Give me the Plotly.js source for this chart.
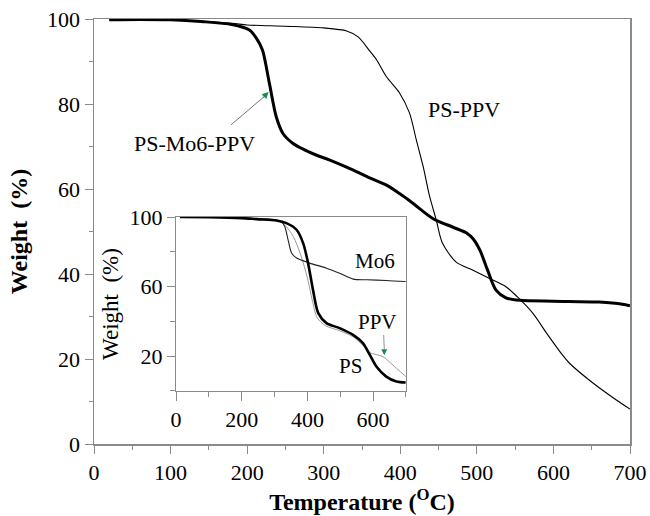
<!DOCTYPE html>
<html><head><meta charset="utf-8">
<script src="https://cdn.plot.ly/plotly-3.0.1.min.js"></script>
<style>html,body{margin:0;padding:0;background:#fff}#chart{width:650px;height:516px}</style>
</head><body><div id="chart"></div>
<script>
// Main plot data
const tempPSMo6PPV = [20, 60, 100, 140, 180, 203, 212, 220, 229, 238, 247, 260, 275, 290, 308, 338, 360, 382, 400, 416, 443, 469, 487, 495, 504, 514, 525, 538, 556, 600, 660, 690, 700];
const wPSMo6PPV    = [99.8, 99.9, 99.8, 99.4, 98.7, 97.4, 95.5, 92.7, 84.9, 77, 73, 70.7, 69.2, 68, 66.8, 64.5, 62.6, 60.9, 58.8, 56.7, 53, 51, 49.6, 48.3, 45.6, 40.9, 36.2, 34.4, 33.8, 33.6, 33.4, 32.9, 32.5];
const tempPSPPV = [20, 100, 180, 200, 250, 300, 330, 345, 360, 369, 382, 399, 412, 421, 430, 438, 447, 455, 473, 495, 516, 538, 553, 573, 591, 612, 621, 647, 677, 700];
const wPSPPV    = [99.8, 99.8, 99.0, 98.6, 98.3, 97.9, 97.2, 95.8, 92.5, 90.4, 86.4, 82.6, 77.9, 71.5, 65.2, 58.5, 52.7, 47.3, 42.8, 40.9, 39, 37, 34.6, 30.8, 26.1, 20.9, 19, 15, 11, 8.2];
// Inset data
const tempPS = [12, 100, 200, 245, 306, 336, 367, 387, 402, 417, 433, 458, 498, 539, 569, 590, 610, 640, 671, 699];
const wPS    = [100, 99.9, 99.4, 98.8, 98, 96.5, 92.7, 85, 73.5, 58.1, 44.7, 39, 36.1, 32.2, 27.5, 20.7, 14, 8.2, 5.4, 4.8];
const tempPPV = [12, 100, 200, 300, 330, 357, 380, 400, 415, 430, 455, 500, 540, 570, 590, 630, 665, 700];
const wPPV    = [100, 99.9, 99.4, 98.5, 95.6, 88.8, 78, 65, 52, 42, 37.5, 34.5, 31, 26, 22, 19.7, 14, 8.2];
const tempMo6 = [12, 100, 200, 300, 320, 331, 341, 352, 367, 407, 458, 498, 539, 580, 640, 699];
const wMo6    = [100, 99.9, 99.4, 98.3, 97.4, 94.6, 87, 79.3, 76.4, 73.5, 70.6, 67.7, 64.3, 63.9, 63.5, 62.9];
const mainXTicks = [0, 100, 200, 300, 400, 500, 600, 700];
const mainYTicks = [0, 20, 40, 60, 80, 100];
const insetXTicks = [0, 200, 400, 600];
const insetYTicks = [20, 60, 100];

const F = "'Liberation Serif', serif";
const axisGray = '#8a8a8a';

const traces = [
  {x: tempPSPPV, y: wPSPPV, mode: 'lines', line: {color: '#000', width: 1.1, shape: 'spline', smoothing: 0.8}, xaxis: 'x', yaxis: 'y'},
  {x: tempPSMo6PPV, y: wPSMo6PPV, mode: 'lines', line: {color: '#000', width: 3, shape: 'spline', smoothing: 0.8}, xaxis: 'x', yaxis: 'y'},
  {x: tempPPV, y: wPPV, mode: 'lines', line: {color: '#9a9a9a', width: 1, shape: 'spline', smoothing: 0.8}, xaxis: 'x2', yaxis: 'y2'},
  {x: tempMo6, y: wMo6, mode: 'lines', line: {color: '#222', width: 1.1, shape: 'spline', smoothing: 0.8}, xaxis: 'x2', yaxis: 'y2'},
  {x: tempPS, y: wPS, mode: 'lines', line: {color: '#000', width: 2.6, shape: 'spline', smoothing: 0.8}, xaxis: 'x2', yaxis: 'y2'}
];

const layout = {
  width: 650, height: 516,
  margin: {l: 94, r: 20, t: 19, b: 72},
  paper_bgcolor: '#fff', plot_bgcolor: '#fff',
  showlegend: false,
  font: {family: F, color: '#000', size: 22},
  xaxis: {
    domain: [0, 1], range: [0, 700], tickvals: mainXTicks, showgrid: false, zeroline: false,
    showline: true, linecolor: axisGray, linewidth: 1.5, mirror: true,
    ticks: 'outside', ticklen: 8, tickcolor: axisGray, tickwidth: 1,
    minor: {dtick: 50, ticks: 'outside', ticklen: 4, tickcolor: axisGray, showgrid: false},
    tickfont: {size: 22, family: F},
    title: {text: '<b>Temperature (<sup>O</sup>C)</b>', font: {size: 24, family: F}, standoff: 8}
  },
  yaxis: {
    domain: [0, 1], range: [0, 100], tickvals: mainYTicks, showgrid: false, zeroline: false,
    showline: true, linecolor: axisGray, linewidth: 1.5, mirror: true,
    ticks: 'outside', ticklen: 8, tickcolor: axisGray, tickwidth: 1,
    minor: {dtick: 10, ticks: 'outside', ticklen: 4, tickcolor: axisGray, showgrid: false},
    tickfont: {size: 22, family: F},
    title: {text: '<b>Weight  (%)</b>', font: {size: 24, family: F}, standoff: 12}
  },
  xaxis2: {
    domain: [0.153, 0.582], anchor: 'y2', range: [0, 700], tickvals: insetXTicks, showgrid: false, zeroline: false,
    showline: true, linecolor: axisGray, linewidth: 1, mirror: true,
    ticks: 'outside', ticklen: 9, tickcolor: axisGray, tickwidth: 1,
    minor: {dtick: 100, ticks: 'outside', ticklen: 5, tickcolor: axisGray, showgrid: false},
    tickfont: {size: 22, family: F}
  },
  yaxis2: {
    domain: [0.125, 0.534], anchor: 'x2', range: [0, 100], tickvals: insetYTicks, showgrid: false, zeroline: false,
    showline: true, linecolor: axisGray, linewidth: 1, mirror: true,
    ticks: 'outside', ticklen: 8, tickcolor: axisGray, tickwidth: 1,
    minor: {dtick: 20, ticks: 'outside', ticklen: 5, tickcolor: axisGray, showgrid: false},
    tickfont: {size: 22, family: F},
    title: {text: 'Weight  (%)', font: {size: 23, family: F}, standoff: 4}
  },
  annotations: [
    {xref: 'x', yref: 'y', x: 131, y: 70.8, text: 'PS-Mo6-PPV', showarrow: false, font: {size: 22, family: F}},
    {xref: 'x', yref: 'y', x: 483, y: 78.6, text: 'PS-PPV', showarrow: false, font: {size: 22, family: F}},
    {xref: 'x', yref: 'y', x: 222, y: 81.7, ax: 177, ay: 74.8, axref: 'x', ayref: 'y', text: '', showarrow: true, arrowhead: 0, arrowwidth: 1, arrowcolor: '#777'},
    {xref: 'x', yref: 'y', x: 228, y: 82.8, ax: 219, ay: 81.2, axref: 'x', ayref: 'y', text: '', showarrow: true, arrowhead: 2, arrowsize: 1.3, arrowwidth: 1, arrowcolor: '#1a8a4a'},
    {xref: 'x2', yref: 'y2', x: 605, y: 74.8, text: 'Mo6', showarrow: false, font: {size: 21, family: F}},
    {xref: 'x2', yref: 'y2', x: 614, y: 39.7, text: 'PPV', showarrow: false, font: {size: 21, family: F}},
    {xref: 'x2', yref: 'y2', x: 532, y: 14.4, text: 'PS', showarrow: false, font: {size: 21, family: F}},
    {xref: 'x2', yref: 'y2', x: 634, y: 24, ax: 632, ay: 33, axref: 'x2', ayref: 'y2', text: '', showarrow: true, arrowhead: 0, arrowwidth: 0.8, arrowcolor: '#777'},
    {xref: 'x2', yref: 'y2', x: 634, y: 20.5, ax: 634, ay: 24.5, axref: 'x2', ayref: 'y2', text: '', showarrow: true, arrowhead: 2, arrowsize: 1.2, arrowwidth: 1, arrowcolor: '#1a8a4a'}
  ]
};

Plotly.newPlot('chart', traces, layout, {displayModeBar: false, staticPlot: true});
</script>
</body></html>
